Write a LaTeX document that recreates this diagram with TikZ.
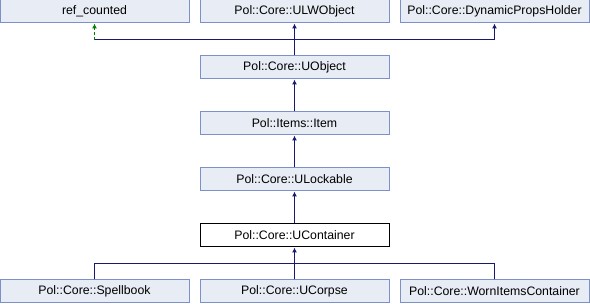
\documentclass[tikz,border=0pt]{standalone}
\usepackage{fontspec}
\setmainfont{Liberation Sans}
\usetikzlibrary{arrows.meta,positioning}
\definecolor{boxfill}{RGB}{232,236,244}
\definecolor{boxborder}{RGB}{124,145,201}
\definecolor{edgeblue}{RGB}{25,25,112}
\definecolor{protgreen}{RGB}{0,128,0}
\begin{document}
\begin{tikzpicture}[
    x=1pt, y=-1pt,
    classbox/.style={rectangle, draw=boxborder, fill=boxfill, line width=1pt,
        minimum width=189pt, minimum height=23pt, inner sep=0pt,
        font=\fontsize{12.3}{14}\selectfont},
    mainbox/.style={classbox, draw=black, fill=white},
    plainedge/.style={draw=edgeblue, line width=1pt},
    inherit/.style={plainedge, -{Latex[length=5pt,width=5pt]}},
    protinherit/.style={draw=protgreen, line width=1pt, dashed,
        dash pattern=on 3pt off 2pt, -{Latex[length=5pt,width=5pt]}},
]
    \useasboundingbox (0,0) rectangle (590,304);

    % Base classes (top row)
    \node[classbox] (refcounted) at (94.5, 11.5) {ref\_counted};
    \node[classbox] (ulwobject)  at (294.5,11.5) {Pol::Core::ULWObject};
    \node[classbox] (dynprops)   at (494.5,11.5) {Pol::Core::DynamicPropsHolder};

    % Main chain down to the container
    \node[classbox] (uobject)    at (294.5, 67.5) {Pol::Core::UObject};
    \node[classbox] (item)       at (294.5,123.5) {Pol::Items::Item};
    \node[classbox] (ulockable)  at (294.5,179.5) {Pol::Core::ULockable};
    \node[mainbox]  (ucontainer) at (294.5,235.5) {Pol::Core::UContainer};

    % Derived classes (bottom row)
    \node[classbox] (spellbook)  at (94.5, 291.5) {Pol::Core::Spellbook};
    \node[classbox] (ucorpse)    at (294.5,291.5) {Pol::Core::UCorpse};
    \node[classbox] (worncont)   at (494.5,291.5) {Pol::Core::WornItemsContainer};

    % UObject inherits from the three top classes
    \coordinate (join) at (294.5,40);
    \draw[plainedge] (uobject.north) -- (join);
    \draw[plainedge] (join -| refcounted) -- (join -| dynprops);
    \draw[inherit] (join) -- (ulwobject.south);
    \draw[inherit] (join -| dynprops) -- (dynprops.south);
    \draw[protinherit] (join -| refcounted) -- (refcounted.south);

    % Single inheritance chain
    \draw[inherit] (item.north) -- (uobject.south);
    \draw[inherit] (ulockable.north) -- (item.south);
    \draw[inherit] (ucontainer.north) -- (ulockable.south);

    % Three classes derived from UContainer
    \coordinate (fork) at (294.5,263.5);
    \draw[plainedge] (fork -| spellbook) -- (fork -| worncont);
    \draw[plainedge] (spellbook.north) -- (fork -| spellbook);
    \draw[plainedge] (worncont.north) -- (fork -| worncont);
    \draw[inherit] (ucorpse.north) -- (ucontainer.south);
\end{tikzpicture}
\end{document}
